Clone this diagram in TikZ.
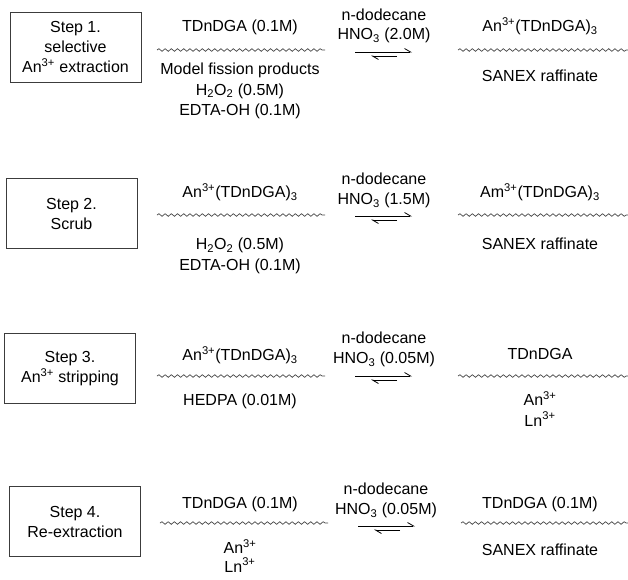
\documentclass[tikz,border=0pt]{standalone}
\usepackage{fontspec}
\setmainfont{Liberation Sans}
\usetikzlibrary{
  arrows.meta,
  positioning,
  decorations.pathmorphing
}
\definecolor{boxcolor}{RGB}{60, 60, 60}
\definecolor{wavecolor}{RGB}{70, 70, 70}
\tikzset{
stepbox/.style={
  draw=boxcolor,
  line width=0.9pt,
  minimum width=131pt,
  minimum height=70pt,
  inner sep=0pt,
  align=center
},
chem/.style={
  inner sep=0pt,
  text height=11.6pt,
  text depth=0pt
},
phase/.style={
  draw=wavecolor,
  line width=0.7pt,
  decorate,
  decoration={snake, segment length=6.2pt, amplitude=1.3pt}
},
fwdarrow/.style={
  -{Straight Barb[left, length=6pt, width=7pt]},
  line width=0.8pt
},
bwdarrow/.style={
  fwdarrow
}
}

\begin{document}
\begin{tikzpicture}[
    x=1pt, y=-1pt,
    font=\fontsize{16}{20}\selectfont,
    linesep/.style={below=8.2pt of #1}
]
\useasboundingbox (0,0) rectangle (628,579);

% ============================================================================
% STEP 1
% ============================================================================
\node[stepbox] (box1) at (75.5,47) {Step 1.\\selective\\An\textsuperscript{3+} extraction};

\node[chem] (org1) at (240,26) {TDnDGA (0.1M)};
\coordinate (wave1a) at (157,50);
\coordinate (wave1b) at (325,50);
\node[chem] (aq1a) at (240,69) {Model fission products};
\node[chem, linesep=aq1a] (aq1b) {H\textsubscript{2}O\textsubscript{2} (0.5M)};
\node[chem, linesep=aq1b] (aq1c) {EDTA-OH (0.1M)};

\node[chem] (solv1) at (384,15) {n-dodecane};
\node[chem] (acid1) at (384,34) {HNO\textsubscript{3} (2.0M)};
\coordinate (fwd1a) at (355,52);
\coordinate (fwd1b) at (412,52);
\coordinate (bwd1a) at (397,56);
\coordinate (bwd1b) at (371,56);

\node[chem] (org1r) at (540,26) {An\textsuperscript{3+}(TDnDGA)\textsubscript{3}};
\coordinate (wave1c) at (458,50);
\coordinate (wave1d) at (628,50);
\node[chem] (aq1r) at (540,76) {SANEX raffinate};

% ============================================================================
% STEP 2
% ============================================================================
\node[stepbox] (box2) at (71.5,213.5) {Step 2.\\Scrub};

\node[chem] (org2) at (240,192) {An\textsuperscript{3+}(TDnDGA)\textsubscript{3}};
\coordinate (wave2a) at (157,215);
\coordinate (wave2b) at (325,215);
\node[chem] (aq2a) at (240,244) {H\textsubscript{2}O\textsubscript{2} (0.5M)};
\node[chem, linesep=aq2a] (aq2b) {EDTA-OH (0.1M)};

\node[chem] (solv2) at (384,179) {n-dodecane};
\node[chem] (acid2) at (384,199) {HNO\textsubscript{3} (1.5M)};
\coordinate (fwd2a) at (355,216);
\coordinate (fwd2b) at (412,216);
\coordinate (bwd2a) at (397,220);
\coordinate (bwd2b) at (371,220);

\node[chem] (org2r) at (540,192) {Am\textsuperscript{3+}(TDnDGA)\textsubscript{3}};
\coordinate (wave2c) at (458,215);
\coordinate (wave2d) at (628,215);
\node[chem] (aq2r) at (540,244) {SANEX raffinate};

% ============================================================================
% STEP 3
% ============================================================================
\node[stepbox] (box3) at (70,368.5) {Step 3.\\An\textsuperscript{3+} stripping};

\node[chem] (org3) at (240,355) {An\textsuperscript{3+}(TDnDGA)\textsubscript{3}};
\coordinate (wave3a) at (157,376);
\coordinate (wave3b) at (325,376);
\node[chem] (aq3a) at (240,400) {HEDPA (0.01M)};

\node[chem] (solv3) at (384,338) {n-dodecane};
\node[chem] (acid3) at (384,358) {HNO\textsubscript{3} (0.05M)};
\coordinate (fwd3a) at (355,376);
\coordinate (fwd3b) at (412,376);
\coordinate (bwd3a) at (397,380);
\coordinate (bwd3b) at (371,380);

\node[chem] (org3r) at (540,354) {TDnDGA};
\coordinate (wave3c) at (458,376);
\coordinate (wave3d) at (628,376);
\node[chem] (aq3ra) at (540,400) {An\textsuperscript{3+}};
\node[chem, linesep=aq3ra] (aq3rb) {Ln\textsuperscript{3+}};

% ============================================================================
% STEP 4
% ============================================================================
\node[stepbox] (box4) at (75,521.5) {Step 4.\\Re-extraction};

\node[chem] (org4) at (240,503) {TDnDGA (0.1M)};
\coordinate (wave4a) at (160,523);
\coordinate (wave4b) at (328,523);
\node[chem] (aq4a) at (240,548) {An\textsuperscript{3+}};
\node[chem, below=6.4pt of aq4a] (aq4b) {Ln\textsuperscript{3+}};

\node[chem] (solv4) at (386,489) {n-dodecane};
\node[chem] (acid4) at (386,509) {HNO\textsubscript{3} (0.05M)};
\coordinate (fwd4a) at (358,526);
\coordinate (fwd4b) at (415,526);
\coordinate (bwd4a) at (400,530);
\coordinate (bwd4b) at (374,530);

\node[chem] (org4r) at (540,503) {TDnDGA (0.1M)};
\coordinate (wave4c) at (461,523);
\coordinate (wave4d) at (628,523);
\node[chem] (aq4r) at (540,550) {SANEX raffinate};

% ============================================================================
% PHASE BOUNDARIES AND EQUILIBRIA
% ============================================================================
\foreach \i in {1,...,4} {
    \draw[phase] (wave\i a) -- (wave\i b);
    \draw[phase] (wave\i c) -- (wave\i d);
    \draw[fwdarrow] (fwd\i a) -- (fwd\i b);
    \draw[bwdarrow] (bwd\i a) -- (bwd\i b);
}

\end{tikzpicture}
\end{document}
